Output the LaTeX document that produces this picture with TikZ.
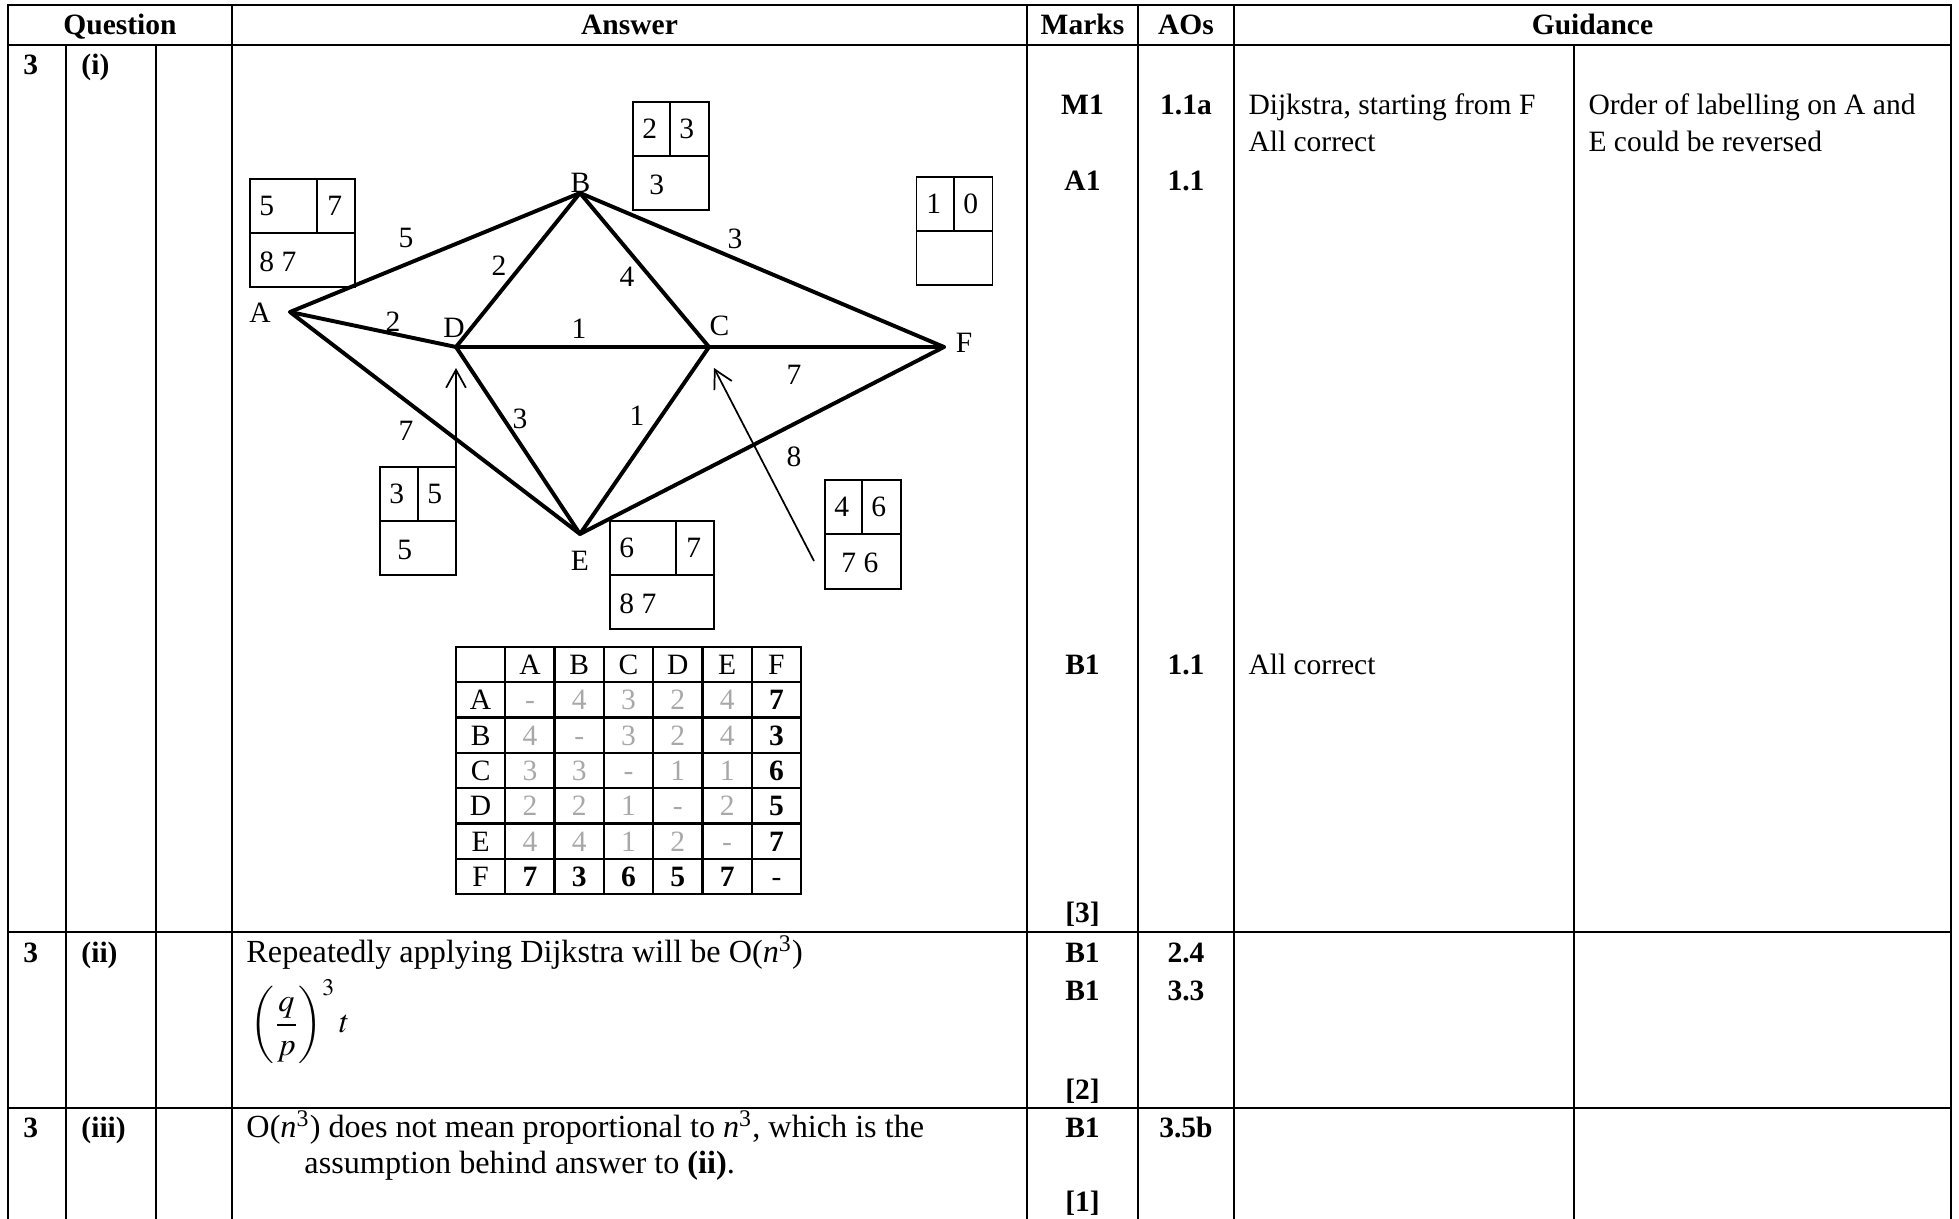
\documentclass[tikz,border=0pt]{standalone}
\usepackage{mathptmx}
\usepackage{fontspec}
\setmainfont{Liberation Serif}
\usetikzlibrary{calc,arrows.meta}
\definecolor{gris}{gray}{0.66}

\begin{document}
\begin{tikzpicture}[x=0.4066pt, y=-0.4066pt,
    every node/.style={font=\fontsize{12}{14}\selectfont, inner sep=0pt},
    trait/.style={line width=0.9pt},
    separe/.style={line width=1.1pt},
    arete/.style={line width=1.6pt, line cap=round},
    boite/.style={line width=0.6pt},
    fleche/.style={line width=0.7pt, -{Straight Barb[length=7.3pt, width=8pt]}},
    grille/.style={line width=0.95pt, line cap=rect},
    petit/.style={font=\fontsize{12}{14}\selectfont},
    reponse/.style={font=\fontsize{13.1}{15}\selectfont}]
    \useasboundingbox (0,0) rectangle (1959,1219);

    % Cadre du tableau
    \draw[trait] (8,1219) -- (8,5) -- (1951,5) -- (1951,1219);
    \draw[trait] (8,45) -- (1951,45);
    \draw[separe] (8,932) -- (1951,932);
    \draw[separe] (8,1108) -- (1951,1108);
    \draw[trait] (232,5) -- (232,1219);
    \draw[trait] (1027,5) -- (1027,1219);
    \draw[trait] (1138,5) -- (1138,1219);
    \draw[trait] (1234,5) -- (1234,1219);
    \draw[trait] (66,45) -- (66,1219);
    \draw[trait] (156,45) -- (156,1219);
    \draw[trait] (1574,45) -- (1574,1219);

    % En-tetes
    \node[anchor=base] (tQuestion) at (120,34.5) {\textbf{Question}};
    \node[anchor=base] (tAnswer) at (629.5,34.5) {\textbf{Answer}};
    \node[anchor=base] (tMarks) at (1082.5,34.5) {\textbf{Marks}};
    \node[anchor=base] (tAOs) at (1186,34.5) {\textbf{AOs}};
    \node[anchor=base] (tGuidance) at (1592.5,34.5) {\textbf{Guidance}};

    % Partie (i)
    \node[anchor=base west] (num1) at (23,75) {\textbf{3}};
    \node[anchor=base west] (part1) at (81,75) {\textbf{(i)}};
    \node[anchor=base] (markM1) at (1082.5,115) {\textbf{M1}};
    \node[anchor=base] (aoM1) at (1186,115) {\textbf{1.1a}};
    \node[anchor=base] (markA1) at (1082.5,191) {\textbf{A1}};
    \node[anchor=base] (aoA1) at (1186,191) {\textbf{1.1}};
    \node[anchor=base] (markB1) at (1082.5,675) {\textbf{B1}};
    \node[anchor=base] (aoB1) at (1186,675) {\textbf{1.1}};
    \node[anchor=base] (total1) at (1082.5,923) {\textbf{[3]}};
    \node[anchor=base west] (guideM1a) at (1248,115) {Dijkstra, starting from F};
    \node[anchor=base west] (guideM1b) at (1248,151.5) {All correct};
    \node[anchor=base west] (noteM1a) at (1588,115) {Order of labelling on A and};
    \node[anchor=base west] (noteM1b) at (1588,151.5) {E could be reversed};
    \node[anchor=base west] (guideB1) at (1248,675) {All correct};

    % Sommets du graphe
    \coordinate (A) at (290,312);
    \coordinate (B) at (580,193);
    \coordinate (D) at (456,347);
    \coordinate (C) at (709,347);
    \coordinate (F) at (944,347);
    \coordinate (E) at (580,534);
    \node (lA) at (260,313) {A};
    \node (lB) at (580.5,183) {B};
    \node (lD) at (454,328) {D};
    \node (lC) at (719.5,326) {C};
    \node (lF) at (964,342.5) {F};
    \node (lE) at (580,561) {E};

    % Aretes
    \draw[arete] (A) -- (B);
    \draw[arete] (A) -- (D);
    \draw[arete] (A) -- (E);
    \draw[arete] (B) -- (D);
    \draw[arete] (B) -- (C);
    \draw[arete] (B) -- (F);
    \draw[arete] (D) -- (C);
    \draw[arete] (C) -- (F);
    \draw[arete] (D) -- (E);
    \draw[arete] (C) -- (E);
    \draw[arete] (E) -- (F);

    % Poids
    \node[petit] (pAB) at (406,238) {5};
    \node[petit] (pBD) at (499,266) {2};
    \node[petit] (pBC) at (627,277) {4};
    \node[petit] (pBF) at (735,239) {3};
    \node[petit] (pAD) at (393,322) {2};
    \node[petit] (pDC) at (579,329) {1};
    \node[petit] (pCF) at (794,375) {7};
    \node[petit] (pAE) at (406,431) {7};
    \node[petit] (pDE) at (520,419) {3};
    \node[petit] (pCE) at (637,416) {1};
    \node[petit] (pEF) at (794,457) {8};

    % Etiquettes de Dijkstra
    \draw[boite] (250,179) rectangle (355,287) (250,233) -- (355,233) (317,179) -- (317,233);
    \node[petit, anchor=base west] (eA1) at (259,216) {5};
    \node[petit, anchor=base west] (eA2) at (327,216) {7};
    \node[petit, anchor=base west] (eA3) at (259,272) {8 7};
    \draw[boite] (633,102) rectangle (709,210) (633,156) -- (709,156) (670,102) -- (670,156);
    \node[petit, anchor=base west] (eB1) at (642,139) {2};
    \node[petit, anchor=base west] (eB2) at (679,139) {3};
    \node[petit, anchor=base west] (eB3) at (649,195) {3};
    \draw[boite] (916.5,177) rectangle (992.5,285) (916.5,231) -- (992.5,231) (954,177) -- (954,231);
    \node[petit, anchor=base west] (eF1) at (926,214) {1};
    \node[petit, anchor=base west] (eF2) at (963,214) {0};
    \draw[boite] (380,467) rectangle (456,575) (380,521) -- (456,521) (418,467) -- (418,521);
    \node[petit, anchor=base west] (eD1) at (389,504) {3};
    \node[petit, anchor=base west] (eD2) at (427,504) {5};
    \node[petit, anchor=base west] (eD3) at (397,560) {5};
    \draw[boite] (610,521) rectangle (714,629) (610,575) -- (714,575) (676,521) -- (676,575);
    \node[petit, anchor=base west] (eE1) at (619,558) {6};
    \node[petit, anchor=base west] (eE2) at (686,558) {7};
    \node[petit, anchor=base west] (eE3) at (619,614) {8 7};
    \draw[boite] (825,480) rectangle (901,589) (825,534) -- (901,534) (862,480) -- (862,534);
    \node[petit, anchor=base west] (eC1) at (834,517) {4};
    \node[petit, anchor=base west] (eC2) at (871,517) {6};
    \node[petit, anchor=base west] (eC3) at (841,573) {7 6};

    % Fleches vers D et C
    \coordinate (coinD) at (456,467);
    \coordinate (queueC) at (814,561);
    \draw[fleche] (coinD) -- ($(D)+(0,21)$);
    \draw[fleche] (queueC) -- ($(C)+(5,21)$);

    % Tableau des distances
    \foreach \i in {0,...,7} {
        \draw[grille] (456+49.3*\i,647) -- (456+49.3*\i,894);
        \draw[grille] (456,647+35.3*\i) -- (801,647+35.3*\i);
    }
    \foreach \l [count=\i] in {A,B,C,D,E,F} {
        \node[anchor=base] (col\l) at (456+49.3*\i+24.65,674.6) {\l};
        \node[anchor=base] (lig\l) at (480.65,674.6+35.3*\i) {\l};
    }
    \foreach \ligne [count=\r] in {{-,4,3,2,4,7},{4,-,3,2,4,3},{3,3,-,1,1,6},{2,2,1,-,2,5},{4,4,1,2,-,7},{7,3,6,5,7,-}}
        \foreach \v [count=\c] in \ligne
            \node[anchor=base] (m\r\c) at (456+49.3*\c+24.65,674.6+35.3*\r)
                {\ifnum\r=\c\relax\ifnum\r=6 \v\else\textcolor{gris}{\v}\fi
                 \else\ifnum\c=6 \textbf{\v}\else\ifnum\r=6 \textbf{\v}\else\textcolor{gris}{\v}\fi\fi\fi};

    % Partie (ii)
    \node[anchor=base west] (num2) at (23,963) {\textbf{3}};
    \node[anchor=base west] (part2) at (81,963) {\textbf{(ii)}};
    \node[reponse, anchor=base west] (rep2a) at (246,963) {Repeatedly applying Dijkstra will be O(\textit{n}\textsuperscript{3})};
    \node[reponse, anchor=base west] (rep2b) at (250,1033) {$\displaystyle\left(\frac{q}{p}\right)^{3} t$};
    \node[anchor=base] (markB1a) at (1082.5,963) {\textbf{B1}};
    \node[anchor=base] (aoB1a) at (1186,963) {\textbf{2.4}};
    \node[anchor=base] (markB1b) at (1082.5,1001) {\textbf{B1}};
    \node[anchor=base] (aoB1b) at (1186,1001) {\textbf{3.3}};
    \node[anchor=base] (total2) at (1082.5,1100) {\textbf{[2]}};

    % Partie (iii)
    \node[anchor=base west] (num3) at (23,1138) {\textbf{3}};
    \node[anchor=base west] (part3) at (81,1138) {\textbf{(iii)}};
    \node[reponse, anchor=base west] (rep3a) at (246,1138) {O(\textit{n}\textsuperscript{3}) does not mean proportional to \textit{n}\textsuperscript{3}, which is the};
    \node[reponse, anchor=base west] (rep3b) at (304,1174) {assumption behind answer to \textbf{(ii)}.};
    \node[anchor=base] (markB1c) at (1082.5,1138) {\textbf{B1}};
    \node[anchor=base] (aoB1c) at (1186,1138) {\textbf{3.5b}};
    \node[anchor=base] (total3) at (1082.5,1212) {\textbf{[1]}};
\end{tikzpicture}
\end{document}
